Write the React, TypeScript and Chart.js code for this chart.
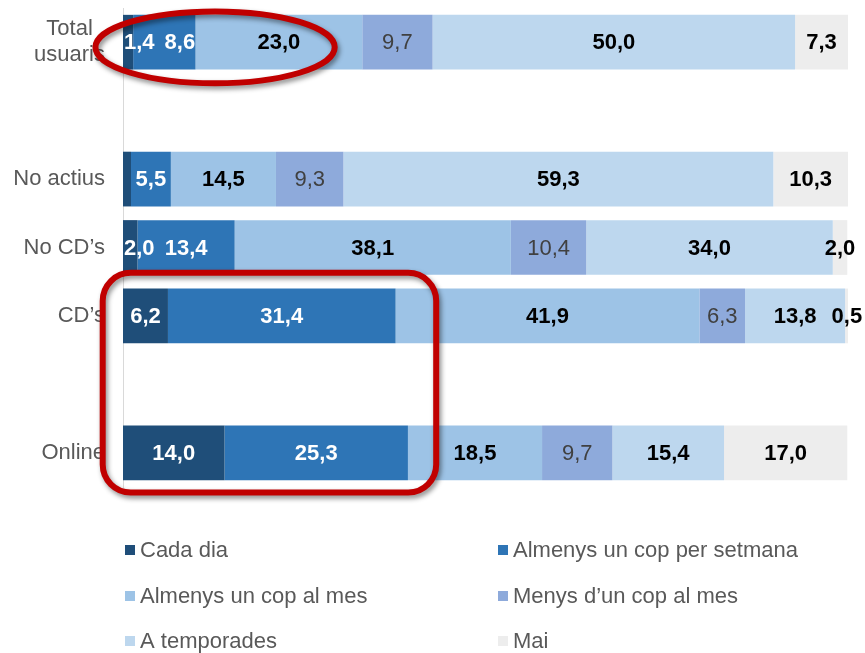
import React, { useEffect, useRef } from 'react';
import { Chart, registerables } from 'chart.js';
Chart.register(...registerables);

// ---------- data ----------
const categories: (string | string[])[] = [['Total', 'usuaris'], '', 'No actius', 'No CD’s', 'CD’s', '', 'Online'];
const seriesNames = [
  'Cada dia',
  'Almenys un cop per setmana',
  'Almenys un cop al mes',
  'Menys d’un cop al mes',
  'A temporades',
  'Mai',
];
const cadaDia = [1.4, null, 1.1, 2.0, 6.2, null, 14.0];
const setmana = [8.6, null, 5.5, 13.4, 31.4, null, 25.3];
const alMes = [23.0, null, 14.5, 38.1, 41.9, null, 18.5];
const menys = [9.7, null, 9.3, 10.4, 6.3, null, 9.7];
const temporades = [50.0, null, 59.3, 34.0, 13.8, null, 15.4];
const mai = [7.3, null, 10.3, 2.0, 0.5, null, 17.0];
const seriesValues = [cadaDia, setmana, alMes, menys, temporades, mai];
// labels not shown in the original: [seriesIndex, categoryIndex]
const hiddenLabels: [number, number][] = [[0, 2]];

// ---------- styles ----------
const colors = ['#1f4e79', '#2e75b6', '#9dc3e6', '#8eaadb', '#bdd7ee', '#ededed'];
const labelColors = ['#ffffff', '#ffffff', '#000000', '#404040', '#000000', '#000000'];
const labelBold = [true, true, true, false, true, true];
const FONT = "'Liberation Sans', Arial, sans-serif";

// highlight shapes in data units (x: percent, y: category index)
const highlightEllipse = { x0: -3.8, x1: 29.2, y0: -0.45, y1: 0.6 };
const highlightRect = { x0: -2.8, x1: 43.2, y0: 3.37, y1: 6.58, r: 28 };

const fmt = (v: number) => v.toFixed(1).replace('.', ',');

const yLabelsPlugin = {
  id: 'yLabels',
  afterDatasetsDraw(chart: any) {
    const ctx = chart.ctx;
    const y = chart.scales.y;
    ctx.save();
    ctx.font = `22px ${FONT}`;
    ctx.fillStyle = '#595959';
    ctx.textBaseline = 'middle';
    const right = chart.chartArea.left - 18;
    categories.forEach((c, i) => {
      const cy = y.getPixelForValue(i);
      const lines = Array.isArray(c) ? c : [c];
      if (lines.length === 1) {
        ctx.textAlign = 'right';
        ctx.fillText(lines[0], right, cy);
      } else {
        const maxW = Math.max(...lines.map((l) => ctx.measureText(l).width));
        ctx.textAlign = 'center';
        const lh = 26;
        lines.forEach((l, k) => {
          ctx.fillText(l, right - maxW / 2, cy + (k - (lines.length - 1) / 2) * lh);
        });
      }
    });
    ctx.restore();
  },
};

const valueLabelsPlugin = {
  id: 'valueLabels',
  afterDatasetsDraw(chart: any) {
    const ctx = chart.ctx;
    const area = chart.chartArea;
    ctx.save();
    ctx.textBaseline = 'middle';
    ctx.textAlign = 'left';
    const prevRight: number[] = categories.map(() => -Infinity);
    chart.data.datasets.forEach((ds: any, di: number) => {
      const meta = chart.getDatasetMeta(di);
      meta.data.forEach((el: any, ci: number) => {
        const v = ds.data[ci];
        if (v === null || v === undefined) return;
        if (hiddenLabels.some(([s, c]) => s === di && c === ci)) return;
        const t = fmt(v);
        ctx.font = `${labelBold[di] ? 'bold ' : ''}22px ${FONT}`;
        const w = ctx.measureText(t).width;
        const cx = (el.base + el.x) / 2;
        let left = cx - w / 2;
        if (left < area.left + 1) left = area.left + 1;
        if (left < prevRight[ci] + 10) left = prevRight[ci] + 10;
        ctx.fillStyle = labelColors[di];
        ctx.fillText(t, left, el.y + 1);
        prevRight[ci] = left + w;
      });
    });
    ctx.restore();
  },
};

const highlightPlugin = {
  id: 'highlight',
  afterDraw(chart: any) {
    const ctx = chart.ctx;
    const xs = chart.scales.x;
    const ys = chart.scales.y;
    ctx.save();
    ctx.strokeStyle = '#c00000';
    ctx.lineWidth = 6;
    ctx.shadowColor = 'rgba(0,0,0,0.45)';
    ctx.shadowBlur = 5;
    ctx.shadowOffsetX = 2;
    ctx.shadowOffsetY = 3;
    // ellipse
    const ex0 = xs.getPixelForValue(highlightEllipse.x0);
    const ex1 = xs.getPixelForValue(highlightEllipse.x1);
    const ey0 = ys.getPixelForValue(highlightEllipse.y0);
    const ey1 = ys.getPixelForValue(highlightEllipse.y1);
    ctx.beginPath();
    ctx.ellipse((ex0 + ex1) / 2, (ey0 + ey1) / 2, (ex1 - ex0) / 2, (ey1 - ey0) / 2, 0, 0, Math.PI * 2);
    ctx.stroke();
    // rounded rect
    const rx0 = xs.getPixelForValue(highlightRect.x0);
    const rx1 = xs.getPixelForValue(highlightRect.x1);
    const ry0 = ys.getPixelForValue(highlightRect.y0);
    const ry1 = ys.getPixelForValue(highlightRect.y1);
    ctx.beginPath();
    ctx.roundRect(rx0, ry0, rx1 - rx0, ry1 - ry0, highlightRect.r);
    ctx.stroke();
    ctx.restore();
  },
};

const legendPlugin = {
  id: 'customLegend',
  afterDraw(chart: any) {
    const ctx = chart.ctx;
    const area = chart.chartArea;
    ctx.save();
    ctx.font = `22px ${FONT}`;
    ctx.textBaseline = 'middle';
    ctx.textAlign = 'left';
    const colX = [area.left + 2, area.left + 375];
    const rowY = [area.bottom + 63, area.bottom + 109, area.bottom + 154];
    seriesNames.forEach((name, i) => {
      const x = colX[i % 2];
      const y = rowY[Math.floor(i / 2)];
      ctx.fillStyle = colors[i];
      ctx.fillRect(x, y - 5, 10, 10);
      ctx.fillStyle = '#595959';
      ctx.fillText(name, x + 15, y + 1);
    });
    ctx.restore();
  },
};

export default function App() {
  const ref = useRef<HTMLCanvasElement>(null);
  useEffect(() => {
    if (!ref.current) return;
    const chart = new Chart(ref.current, {
      type: 'bar',
      data: {
        labels: categories.map((c, i) => (Array.isArray(c) ? c.join(' ') : c || `gap${i}`)),
        datasets: seriesValues.map((vals, i) => ({
          label: seriesNames[i],
          data: vals as any,
          backgroundColor: colors[i],
          borderWidth: 0,
          barPercentage: 0.8,
          categoryPercentage: 1,
        })),
      },
      options: {
        indexAxis: 'y',
        animation: false,
        responsive: false,
        devicePixelRatio: 1,
        layout: { padding: { left: 0, top: 8, right: 17, bottom: 166 } },
        plugins: { legend: { display: false }, tooltip: { enabled: false } },
        scales: {
          x: { stacked: true, min: 0, max: 100, display: false },
          y: {
            stacked: true,
            ticks: { display: false },
            grid: { display: false },
            border: { display: true, color: '#d9d9d9', width: 1 },
            afterFit: (s: any) => {
              s.width = 123;
            },
          },
        },
      },
      plugins: [yLabelsPlugin, valueLabelsPlugin, highlightPlugin, legendPlugin],
    });
    return () => chart.destroy();
  }, []);
  return (
    <div style={{ position: 'absolute', left: 0, top: 0, width: 865, height: 653, background: '#fff' }}>
      <canvas ref={ref} width={865} height={653} style={{ display: 'block' }} />
    </div>
  );
}
